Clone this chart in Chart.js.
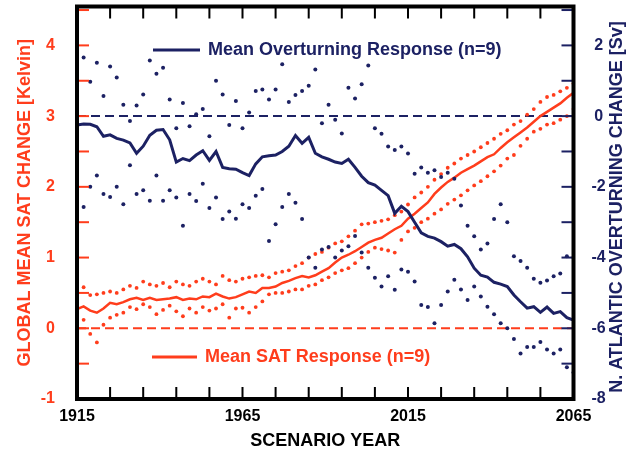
<!DOCTYPE html>
<html><head><meta charset="utf-8">
<script src="https://cdn.jsdelivr.net/npm/chart.js@4.4.1/dist/chart.umd.min.js"></script>
<style>html,body{margin:0;padding:0;background:#fff}canvas{display:block}</style>
</head><body>
<canvas id="c" width="634" height="452"></canvas>
<script>
// ---- data ----
const years = [1915,1917,1919,1921,1923,1925,1927,1929,1931,1933,
  1935,1937,1939,1941,1943,1945,1947,1949,1951,1953,
  1955,1957,1959,1961,1963,1965,1967,1969,1971,1973,
  1975,1977,1979,1981,1983,1985,1987,1989,1991,1993,
  1995,1997,1999,2001,2003,2005,2007,2009,2011,2013,
  2015,2017,2019,2021,2023,2025,2027,2029,2031,2033,
  2035,2037,2039,2041,2043,2045,2047,2049,2051,2053,
  2055,2057,2059,2061,2063,2065];

// Mean N. Atlantic overturning change [Sv] (right axis)
const overturnMean = [-0.25,-0.22,-0.23,-0.30,-0.57,-0.53,-0.63,-0.68,-0.76,-1.05,
  -0.85,-0.54,-0.40,-0.38,-0.67,-1.30,-1.20,-1.26,-1.10,-0.98,
  -1.25,-1.00,-1.45,-1.49,-1.50,-1.60,-1.68,-1.35,-1.15,-1.12,
  -1.10,-1.00,-0.85,-0.55,-0.77,-0.60,-1.05,-1.15,-1.22,-1.30,
  -1.34,-1.22,-1.45,-1.70,-1.88,-1.95,-2.10,-2.25,-2.75,-2.55,
  -2.70,-3.00,-3.30,-3.40,-3.45,-3.55,-3.68,-3.63,-3.75,-3.98,
  -4.30,-4.50,-4.55,-4.70,-4.75,-4.82,-5.06,-5.25,-5.43,-5.39,
  -5.55,-5.40,-5.58,-5.53,-5.70,-5.77];
const overturnUpper = [2.50,1.66,0.97,1.51,0.57,1.40,1.09,0.32,-0.14,0.30,
  0.61,1.57,1.20,1.37,0.47,-0.34,0.37,-0.29,0.05,0.20,
  -0.57,1.00,0.61,-0.25,0.43,-0.34,0.10,0.71,0.75,0.47,
  0.75,1.47,0.40,0.60,0.71,0.86,1.32,-0.20,0.32,-0.10,
  -0.49,0.80,0.50,0.90,1.43,-0.34,-0.50,-0.86,-0.96,-0.86,
  -1.06,-1.63,-1.45,-1.60,-1.53,-1.72,-1.60,-1.77,-2.53,-3.10,
  -3.40,-3.77,-3.60,-2.91,-2.49,-3.00,-3.96,-4.10,-4.29,-4.60,
  -4.71,-4.65,-4.53,-4.45,-3.96,-4.00];
const overturnLower = [-2.20,-2.57,-2.00,-1.68,-2.20,-2.29,-2.00,-2.49,-1.39,-2.20,
  -2.10,-2.39,-1.68,-2.39,-2.10,-2.30,-3.10,-2.20,-2.40,-1.91,
  -2.60,-2.30,-2.91,-2.70,-2.90,-2.49,-2.60,-2.25,-2.06,-3.53,
  -3.06,-2.57,-2.20,-2.45,-2.91,-4.00,-4.29,-3.77,-3.70,-4.00,
  -3.80,-3.68,-3.39,-3.86,-4.29,-4.57,-4.82,-4.53,-4.91,-4.34,
  -4.40,-4.68,-5.34,-5.40,-5.86,-5.34,-4.96,-4.63,-4.90,-5.20,
  -4.82,-5.10,-5.39,-5.60,-5.86,-6.00,-6.30,-6.71,-6.53,-6.53,
  -6.39,-6.60,-6.71,-6.60,-7.10,-7.25];

// Global mean SAT change [K] (left axis)
const satMean = [0.27,0.31,0.25,0.22,0.28,0.36,0.34,0.37,0.41,0.43,
  0.40,0.43,0.40,0.41,0.42,0.44,0.40,0.42,0.41,0.45,
  0.44,0.49,0.45,0.42,0.44,0.48,0.52,0.50,0.57,0.57,
  0.59,0.64,0.67,0.71,0.74,0.72,0.75,0.80,0.85,0.93,
  1.00,1.04,1.09,1.15,1.21,1.25,1.28,1.34,1.40,1.45,
  1.55,1.62,1.70,1.78,1.90,1.99,2.07,2.13,2.20,2.25,
  2.30,2.36,2.42,2.46,2.55,2.63,2.70,2.77,2.84,2.92,
  3.00,3.06,3.12,3.18,3.26,3.33];
const satUpper = [0.64,0.58,0.47,0.48,0.50,0.52,0.50,0.55,0.60,0.57,
  0.66,0.62,0.60,0.64,0.58,0.66,0.62,0.60,0.66,0.70,
  0.66,0.62,0.74,0.68,0.66,0.70,0.72,0.74,0.75,0.72,
  0.78,0.80,0.82,0.88,0.92,1.00,1.05,1.08,1.14,1.20,
  1.23,1.30,1.38,1.47,1.48,1.50,1.52,1.54,1.60,1.65,
  1.75,1.85,1.92,2.00,2.10,2.18,2.27,2.33,2.40,2.45,
  2.50,2.56,2.62,2.68,2.75,2.80,2.88,2.93,3.02,3.10,
  3.20,3.27,3.30,3.35,3.40,3.46];
const satLower = [-0.18,0.12,-0.08,-0.20,0.05,0.15,0.19,0.22,0.30,0.27,
  0.34,0.30,0.20,0.26,0.32,0.24,0.17,0.28,0.22,0.30,
  0.25,0.28,0.34,0.15,0.28,0.29,0.22,0.30,0.38,0.48,
  0.50,0.50,0.52,0.55,0.55,0.60,0.62,0.68,0.72,0.78,
  0.82,0.85,0.92,1.00,1.08,1.14,1.12,1.10,1.07,1.25,
  1.37,1.42,1.50,1.55,1.62,1.68,1.76,1.82,1.88,1.95,
  2.02,2.08,2.15,2.22,2.30,2.40,2.45,2.58,2.68,2.78,
  2.82,2.88,2.90,2.95,3.00,3.10];

// zero reference lines
const zeroYears = [1915, 2065];
const zeroLevel = [0, 0];

// tick labels
const xTickLabels = [1915, 1965, 2015, 2065];
const satTickLabels = [-1, 0, 1, 2, 3, 4];
const svTickLabels = [-8, -6, -4, -2, 0, 2];

// ---- styling ----
const RED = '#ff3d1c';
const NAVY = '#1c2163';
const FAM = "'Liberation Sans', Arial, Helvetica, sans-serif";
const pts = (xs, ys) => xs.map((x, i) => ({x: x, y: ys[i]}));
const noPad = s => { s.paddingTop = 0; s.paddingBottom = 0; s.paddingLeft = 0; s.paddingRight = 0; };

const decor = {
  id: 'decor',
  afterDatasetsDraw(chart) {
    const {ctx, chartArea: a, scales} = chart;
    const x = scales.x, y = scales.y, y2 = scales.y2;
    ctx.save();
    ctx.lineWidth = 2;
    ctx.strokeStyle = '#000';
    x.ticks.forEach(t => {
      const px = x.getPixelForValue(t.value);
      ctx.beginPath();
      ctx.moveTo(px, a.bottom); ctx.lineTo(px, a.bottom - 12);
      ctx.moveTo(px, a.top); ctx.lineTo(px, a.top + 12);
      ctx.stroke();
    });
    ctx.strokeStyle = RED;
    y.ticks.forEach(t => {
      const py = y.getPixelForValue(t.value);
      ctx.beginPath(); ctx.moveTo(a.left, py); ctx.lineTo(a.left + 12, py); ctx.stroke();
    });
    ctx.strokeStyle = NAVY;
    y2.ticks.forEach(t => {
      const py = y2.getPixelForValue(t.value);
      ctx.beginPath(); ctx.moveTo(a.right, py); ctx.lineTo(a.right - 12, py); ctx.stroke();
    });
    ctx.lineWidth = 4;
    ctx.strokeStyle = '#000';
    ctx.strokeRect(a.left, a.top, a.right - a.left, a.bottom - a.top);

    // legends
    ctx.font = 'bold 18px ' + FAM;
    ctx.textBaseline = 'middle';
    ctx.textAlign = 'left';
    ctx.lineWidth = 3;
    ctx.strokeStyle = NAVY;
    ctx.beginPath(); ctx.moveTo(153, 50); ctx.lineTo(200, 50); ctx.stroke();
    ctx.fillStyle = NAVY;
    ctx.fillText('Mean Overturning Response (n=9)', 208, 50);
    ctx.strokeStyle = RED;
    ctx.beginPath(); ctx.moveTo(152, 357); ctx.lineTo(197, 357); ctx.stroke();
    ctx.fillStyle = RED;
    ctx.fillText('Mean SAT Response (n=9)', 205, 357);

    // right axis title (reads bottom to top)
    ctx.translate(617, 207);
    ctx.rotate(-Math.PI / 2);
    ctx.textAlign = 'center';
    ctx.fillStyle = NAVY;
    ctx.fillText('N. ATLANTIC OVERTURNING CHANGE [Sv]', 0, 0);
    ctx.restore();
  }
};

new Chart(document.getElementById('c'), {
  type: 'line',
  data: {
    datasets: [
      {label: 'Mean Overturning Response (n=9)', data: pts(years, overturnMean), yAxisID: 'y2',
       borderColor: NAVY, borderWidth: 3, pointRadius: 0, tension: 0, order: 1},
      {label: 'Overturning upper', data: pts(years, overturnUpper), yAxisID: 'y2', showLine: false,
       pointRadius: 2, pointBackgroundColor: NAVY, pointBorderWidth: 0, order: 2},
      {label: 'Overturning lower', data: pts(years, overturnLower), yAxisID: 'y2', showLine: false,
       pointRadius: 2, pointBackgroundColor: NAVY, pointBorderWidth: 0, order: 2},
      {label: 'Mean SAT Response (n=9)', data: pts(years, satMean), yAxisID: 'y',
       borderColor: RED, borderWidth: 2.5, pointRadius: 0, tension: 0, order: 3},
      {label: 'SAT upper', data: pts(years, satUpper), yAxisID: 'y', showLine: false,
       pointRadius: 1.9, pointBackgroundColor: RED, pointBorderWidth: 0, order: 4},
      {label: 'SAT lower', data: pts(years, satLower), yAxisID: 'y', showLine: false,
       pointRadius: 1.9, pointBackgroundColor: RED, pointBorderWidth: 0, order: 4},
      {label: 'Overturning zero', data: pts(zeroYears, zeroLevel), yAxisID: 'y2',
       borderColor: NAVY, borderWidth: 2, borderDash: [9, 5], pointRadius: 0, order: 5},
      {label: 'SAT zero', data: pts(zeroYears, zeroLevel), yAxisID: 'y',
       borderColor: RED, borderWidth: 2, borderDash: [9, 5], pointRadius: 0, order: 5}
    ]
  },
  options: {
    responsive: false,
    animation: false,
    devicePixelRatio: 1,
    layout: {padding: {top: 6.5, left: 0, right: 0, bottom: 0}},
    plugins: {legend: {display: false}, tooltip: {enabled: false}},
    scales: {
      x: {
        type: 'linear', position: 'bottom', min: 1915, max: 2065,
        grid: {display: false}, border: {display: false},
        ticks: {stepSize: 10, autoSkip: false, includeBounds: false, maxRotation: 0, padding: 0,
          color: '#000', font: {family: FAM, size: 16, weight: 'bold'},
          callback: v => xTickLabels.includes(v) ? String(v) : ''},
        title: {display: true, text: 'SCENARIO YEAR', color: '#000',
          font: {family: FAM, size: 18, weight: 'bold'}, padding: {top: 0, bottom: 0}},
        afterFit(s) { s.height = 53; noPad(s); }
      },
      y: {
        type: 'linear', position: 'left', min: -1, max: 4.55,
        grid: {display: false}, border: {display: false},
        ticks: {stepSize: 0.5, autoSkip: false, includeBounds: false, padding: 14,
          color: RED, font: {family: FAM, size: 16, weight: 'bold'},
          callback: v => satTickLabels.includes(v) ? String(v) : ''},
        title: {display: true, text: 'GLOBAL MEAN SAT CHANGE [Kelvin]', color: RED,
          font: {family: FAM, size: 18, weight: 'bold'}, padding: {top: 14, bottom: 0}},
        afterFit(s) { s.width = 77; noPad(s); }
      },
      y2: {
        type: 'linear', position: 'right', min: -8, max: 3.1,
        grid: {display: false}, border: {display: false},
        ticks: {stepSize: 1, autoSkip: false, includeBounds: false, padding: 10, crossAlign: 'center',
          color: NAVY, font: {family: FAM, size: 16, weight: 'bold'},
          callback: v => svTickLabels.includes(v) ? String(v) : ''},
        afterFit(s) { s.width = 60.5; noPad(s); }
      }
    }
  },
  plugins: [decor]
});
</script>
</body></html>
